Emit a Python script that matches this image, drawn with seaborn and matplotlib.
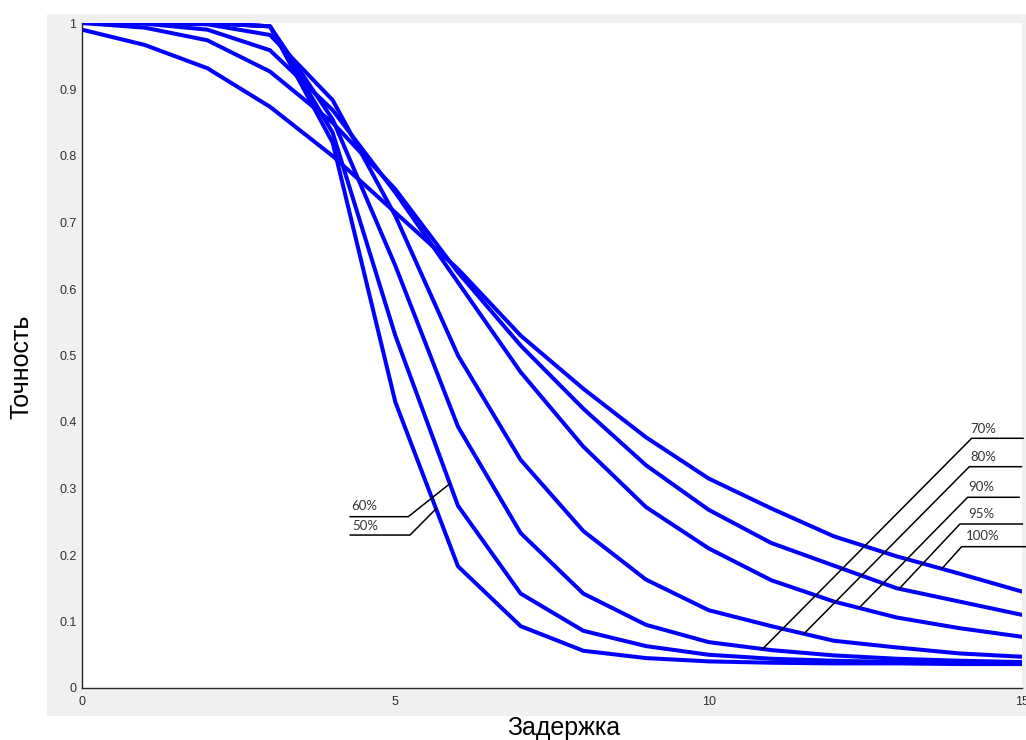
import numpy as np
import pandas as pd
import matplotlib
matplotlib.use("Agg")
import matplotlib.pyplot as plt
from matplotlib.patches import Rectangle
import seaborn as sns

# ---------------- data ----------------
delay = list(range(16))
labels = ["50%", "60%", "70%", "80%", "90%", "95%", "100%"]
acc_50 = [1.0, 1.0, 1.0, 0.995, 0.82, 0.43, 0.183, 0.093, 0.056, 0.045, 0.040, 0.038, 0.037, 0.037, 0.036, 0.036]
acc_60 = [1.0, 1.0, 1.0, 0.995, 0.835, 0.53, 0.274, 0.142, 0.086, 0.063, 0.050, 0.044, 0.041, 0.039, 0.038, 0.037]
acc_70 = [1.0, 1.0, 1.0, 0.995, 0.855, 0.635, 0.393, 0.233, 0.142, 0.095, 0.069, 0.057, 0.049, 0.044, 0.041, 0.039]
acc_80 = [1.0, 1.0, 0.998, 0.982, 0.884, 0.71, 0.50, 0.343, 0.236, 0.163, 0.117, 0.093, 0.071, 0.061, 0.052, 0.047]
acc_90 = [1.0, 0.999, 0.99, 0.959, 0.869, 0.745, 0.61, 0.475, 0.363, 0.272, 0.21, 0.162, 0.13, 0.106, 0.09, 0.077]
acc_95 = [1.0, 0.993, 0.974, 0.927, 0.85, 0.75, 0.625, 0.515, 0.42, 0.335, 0.268, 0.218, 0.184, 0.15, 0.13, 0.11]
acc_100 = [0.99, 0.967, 0.932, 0.874, 0.80, 0.715, 0.63, 0.53, 0.45, 0.377, 0.315, 0.27, 0.228, 0.198, 0.172, 0.145]
series = [acc_50, acc_60, acc_70, acc_80, acc_90, acc_95, acc_100]

x_ticks = [0, 5, 10, 15]
y_ticks = [0, 0.1, 0.2, 0.3, 0.4, 0.5, 0.6, 0.7, 0.8, 0.9, 1.0]
y_ticklabels = ["0", "0.1", "0.2", "0.3", "0.4", "0.5", "0.6", "0.7", "0.8", "0.9", "1"]
xlabel = "Задержка"
ylabel = "Точность"

# annotation layout: (label, pointer x on curve, elbow x, elbow y, free end x, text x, text y)
annotations = [
    ("60%", 5.87, 5.207, 0.2576, 4.276, 4.29, 0.264),
    ("50%", 5.65, 5.234, 0.230, 4.276, 4.32, 0.235),
    ("70%", 10.86, 14.197, 0.3755, 15.02, 14.17, 0.381),
    ("80%", 11.52, 14.159, 0.3328, 14.995, 14.17, 0.339),
    ("90%", 12.40, 14.133, 0.2868, 14.957, 14.14, 0.293),
    ("95%", 13.04, 14.01, 0.2466, 15.01, 14.14, 0.253),
    ("100%", 13.72, 14.037, 0.2125, 15.06, 14.10, 0.219),
]

df = pd.DataFrame({
    "x": np.tile(delay, len(labels)),
    "y": np.concatenate(series),
    "curve": np.repeat(labels, len(delay)),
})

sns.set_theme(style="white")
plt.rcParams["font.family"] = ["Liberation Sans", "DejaVu Sans"]

W, H = 1026, 740
fig = plt.figure(figsize=(W / 100, H / 100), dpi=100, facecolor="white")
bg = Rectangle((47 / W, (H - 716) / H), 1 - 47 / W, (716 - 14) / H,
               transform=fig.transFigure, facecolor="#f0f0f0",
               edgecolor="none", zorder=-10)
fig.add_artist(bg)

ax = fig.add_axes([82 / W, (H - 688) / H, (1022 - 82) / W, (688 - 23) / H])
ax.set_zorder(1)
ax.set_facecolor("white")

sns.lineplot(data=df, x="x", y="y", hue="curve", palette=["#0000ff"] * len(labels),
             estimator=None, sort=False, linewidth=2.9, legend=False, ax=ax)

ax.set_xlim(0, 15)
ax.set_ylim(0, 1)
ax.set_xticks(x_ticks)
ax.set_xticklabels([str(t) for t in x_ticks])
ax.set_yticks(y_ticks)
ax.set_yticklabels(y_ticklabels)
ax.set_xlabel("")
ax.set_ylabel("")
for s in ["top", "right"]:
    ax.spines[s].set_visible(False)
for s in ["left", "bottom"]:
    ax.spines[s].set_color("#262626")
    ax.spines[s].set_linewidth(1.0)
ax.tick_params(axis="both", direction="in", length=6.5, width=0.8, color="#262626",
               labelsize=9, labelcolor="#303030")
ax.tick_params(axis="x", pad=6)
ax.tick_params(axis="y", pad=4)

series_by_label = dict(zip(labels, series))
for lab, px, ex, ey, fx, tx, ty in annotations:
    py = np.interp(px, delay, series_by_label[lab])
    ax.plot([fx, ex, px], [ey, ey, py], color="black", linewidth=1.1, clip_on=False, zorder=5)
    ax.text(tx, ty, lab, fontsize=9.5, color="#333333", family=["Lato", "DejaVu Sans"],
            ha="left", va="bottom", zorder=6, clip_on=False)

fig.text(564 / W, (H - 728) / H, xlabel, fontsize=18, ha="center", va="center", color="black")
fig.text(22 / W, (H - 367) / H, ylabel, fontsize=18, ha="center", va="center",
         rotation=90, color="black")

fig.savefig("out.png", dpi=100, facecolor="white")
